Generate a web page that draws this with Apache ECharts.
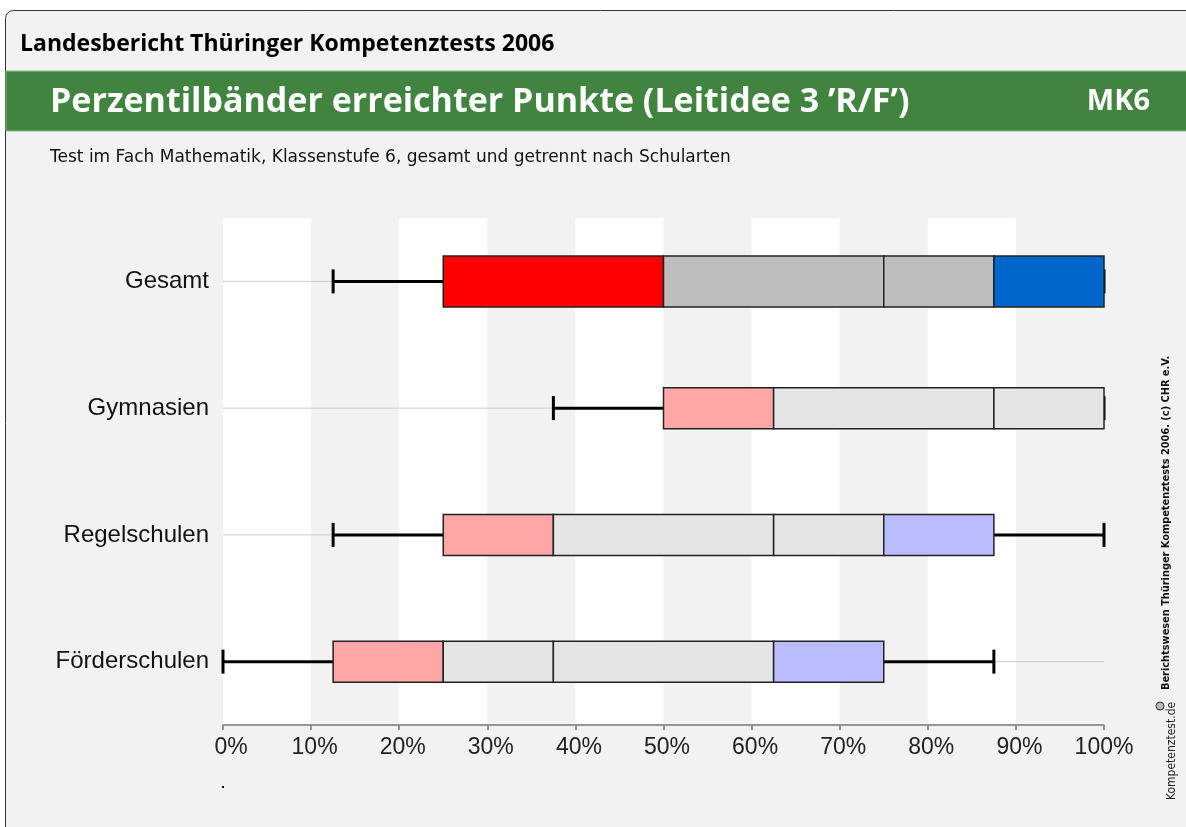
<!DOCTYPE html>
<html>
<head>
<meta charset="utf-8">
<script src="https://cdn.jsdelivr.net/npm/echarts@6/dist/echarts.min.js"></script>
<style>
  html, body { margin: 0; padding: 0; background: #fff; }
  #chart { width: 1186px; height: 827px; }
</style>
</head>
<body>
<div id="chart"></div>
<script>
// Schularten (von oben nach unten)
var categories = ["Gesamt", "Gymnasien", "Regelschulen", "Förderschulen"];
// Perzentile in % der erreichbaren Punkte
var p5  = [12.5, 37.5, 12.5, 0];
var p10 = [25, 50, 25, 12.5];
var p25 = [50, 62.5, 37.5, 25];
var p50 = [75, 87.5, 62.5, 37.5];
var p75 = [87.5, 100, 75, 62.5];
var p90 = [100, 100, 87.5, 75];
var p95 = [100, 100, 100, 87.5];
var xTicks = [0, 10, 20, 30, 40, 50, 60, 70, 80, 90, 100];

// Farben: Gesamt kräftig, Schularten blass
var lowCol  = ["#ff0000", "#ffa6a6", "#ffa6a6", "#ffa6a6"];
var midCol  = ["#bebebe", "#e5e5e5", "#e5e5e5", "#e5e5e5"];
var highCol = ["#0066cc", "#bbbbff", "#bbbbff", "#bbbbff"];

var chart = echarts.init(document.getElementById("chart"));

// whisker + grundlinie je zeile
var whiskerData = categories.map(function (c, i) {
  return [i, p5[i], p10[i], p90[i], p95[i]];
});
// boxen je zeile: [zeile, von, bis]
var boxData = [];
categories.forEach(function (c, i) {
  boxData.push({ value: [i, p10[i], p25[i]], itemStyle: { color: lowCol[i] } });
  boxData.push({ value: [i, p25[i], p50[i]], itemStyle: { color: midCol[i] } });
  boxData.push({ value: [i, p50[i], p75[i]], itemStyle: { color: midCol[i] } });
  boxData.push({ value: [i, p75[i], p90[i]], itemStyle: { color: highCol[i] } });
});

function renderBase(params, api) {
  var row = api.value(0);
  var a = api.coord([0, row]);
  var b = api.coord([100, row]);
  return {
    type: "line",
    shape: { x1: a[0], y1: a[1], x2: b[0], y2: b[1] },
    style: { stroke: "#cccccc", lineWidth: 1 }
  };
}

function renderWhisker(params, api) {
  var row = api.value(0);
  var lo = api.coord([api.value(1), row]);
  var lo2 = api.coord([api.value(2), row]);
  var hi = api.coord([api.value(3), row]);
  var hi2 = api.coord([api.value(4), row]);
  var cap = 12;
  var st = { stroke: "#000", lineWidth: 3 };
  return {
    type: "group",
    children: [
      { type: "line", shape: { x1: lo[0], y1: lo[1], x2: lo2[0], y2: lo2[1] }, style: st },
      { type: "line", shape: { x1: lo[0], y1: lo[1] - cap, x2: lo[0], y2: lo[1] + cap }, style: st },
      { type: "line", shape: { x1: hi[0], y1: hi[1], x2: hi2[0], y2: hi2[1] }, style: st },
      { type: "line", shape: { x1: hi2[0], y1: hi2[1] - cap, x2: hi2[0], y2: hi2[1] + cap }, style: st }
    ]
  };
}

function renderBox(params, api) {
  var row = api.value(0);
  var s = api.coord([api.value(1), row]);
  var e = api.coord([api.value(2), row]);
  if (e[0] - s[0] < 0.5) return null;
  var h = row === 0 ? 51 : 41; // gesamt etwas dicker
  return {
    type: "rect",
    shape: { x: s[0], y: s[1] - h / 2, width: e[0] - s[0], height: h },
    style: { fill: api.visual("color"), stroke: "#222", lineWidth: 1.5 }
  };
}

var sideFont = "'DejaVu Sans', sans-serif";
var headFont = "'Open Sans', 'DejaVu Sans', sans-serif";
var arial = "'Liberation Sans', Arial, sans-serif";

chart.setOption({
  animation: false,
  backgroundColor: "transparent",
  grid: { left: 223, right: 82, top: 218, bottom: 102 },
  xAxis: {
    type: "value",
    min: 0,
    max: 100,
    interval: 10,
    axisLine: { show: true, lineStyle: { color: "#777", width: 1.5 } },
    axisTick: { show: true, length: 5, lineStyle: { color: "#777", width: 1.5 } },
    axisLabel: {
      margin: 11,
      fontSize: 23,
      color: "#222",
      fontFamily: arial,
      formatter: function (v) {
        if (xTicks.indexOf(v) < 0) return "";
        if (v === 0) return "{first|0%}";
        if (v === 100) return v + "%";
        return "{mid|" + v + "%}";
      },
      rich: {
        first: { fontSize: 23, fontFamily: arial, color: "#222", padding: [0, 0, 0, 16] },
        mid: { fontSize: 23, fontFamily: arial, color: "#222", padding: [0, 0, 0, 7] }
      }
    },
    splitLine: { show: false },
    splitArea: { show: true, areaStyle: { color: ["#ffffff", "#f2f2f2"] } }
  },
  yAxis: {
    type: "category",
    data: categories,
    inverse: true,
    axisLine: { show: false },
    axisTick: { show: false },
    axisLabel: { margin: 14, fontSize: 24, color: "#111", fontFamily: arial }
  },
  series: [
    { type: "custom", renderItem: renderBase, data: whiskerData, z: 1, silent: true },
    { type: "custom", renderItem: renderWhisker, data: whiskerData, z: 2, silent: true },
    { type: "custom", renderItem: renderBox, data: boxData, z: 3, silent: true }
  ],
  graphic: [
    {
      type: "rect", z: -10, silent: true,
      shape: { x: 5.5, y: 10.5, width: 1200, height: 840, r: 8 },
      style: { fill: "#f2f2f2", stroke: "#333", lineWidth: 1 }
    },
    {
      type: "rect", z: -9, silent: true,
      shape: { x: 6, y: 71, width: 1190, height: 60 },
      style: { fill: "#41843f", stroke: "#8fbf8c", lineWidth: 1 }
    },
    {
      type: "text", x: 20, y: 44, silent: true,
      style: { text: "Landesbericht Thüringer Kompetenztests 2006", font: "bold 23px " + headFont, fill: "#000", textVerticalAlign: "middle" }
    },
    {
      type: "text", x: 50, y: 102, silent: true,
      style: { text: "Perzentilbänder erreichter Punkte (Leitidee 3 ’R/F’)", font: "bold 34px " + headFont, fill: "#fff", textVerticalAlign: "middle" }
    },
    {
      type: "text", x: 1150, y: 102, silent: true,
      style: { text: "MK6", font: "bold 29px " + headFont, fill: "#fff", textAlign: "right", textVerticalAlign: "middle" }
    },
    {
      type: "text", x: 50, y: 158, silent: true,
      style: { text: "Test im Fach Mathematik, Klassenstufe 6, gesamt und getrennt nach Schularten", font: "17px " + sideFont, fill: "#111", textVerticalAlign: "middle" }
    },
    {
      type: "text", x: 1166, y: 690, rotation: Math.PI / 2, silent: true,
      style: { text: "Berichtswesen Thüringer Kompetenztests 2006. (c) CHR e.V.", font: "bold 9.8px " + sideFont, fill: "#111", textVerticalAlign: "middle" }
    },
    {
      type: "text", x: 1172, y: 800, rotation: Math.PI / 2, silent: true,
      style: { text: "Kompetenztest.de", font: "12px 'DejaVu Sans Condensed', 'Liberation Sans Narrow', sans-serif", fill: "#222", textVerticalAlign: "middle" }
    },
    {
      type: "circle", silent: true,
      shape: { cx: 1160, cy: 706, r: 4 },
      style: { fill: "#bbb", stroke: "#333", lineWidth: 1 }
    },
    {
      type: "rect", silent: true,
      shape: { x: 222, y: 786, width: 2, height: 2 },
      style: { fill: "#000" }
    }
  ]
});
</script>
</body>
</html>
